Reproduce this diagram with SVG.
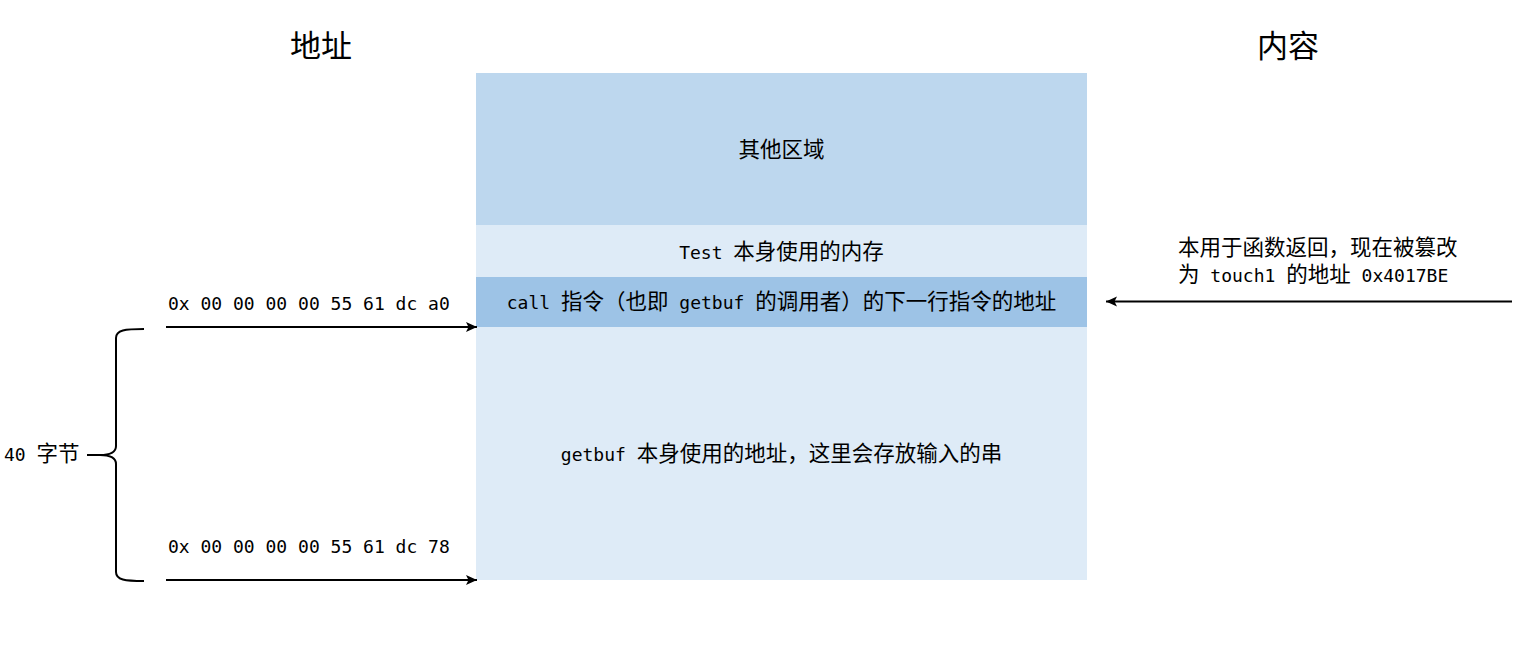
<svg xmlns="http://www.w3.org/2000/svg" width="1534" height="646" viewBox="0 0 1534 646">
  <defs>
    <marker id="arrow" markerUnits="userSpaceOnUse" markerWidth="12" markerHeight="12" viewBox="0 0 12 12" refX="11" refY="6" orient="auto">
      <path d="M0,1 L11,6 L0,11 L2.5,6 Z" fill="#000"/>
    </marker>
    <style>
      .t { font-family: "DejaVu Sans Mono", "Liberation Mono", monospace; font-size: 18px; fill: #000; }
      .c { font-family: "Noto Sans CJK SC", "Noto Sans", sans-serif; font-size: 21.5px; }
      .title { font-family: "Noto Sans CJK SC", sans-serif; font-size: 31px; fill: #000; }
      .mid { text-anchor: middle; }
      .line { stroke: #000; stroke-width: 2; fill: none; }
    </style>
  </defs>
  <rect width="1534" height="646" fill="#fff"/>

  <!-- column headings -->
  <g id="heading-address"><text class="title mid" x="321" y="57">地址</text></g>
  <g id="heading-content"><text class="title mid" x="1288" y="57">内容</text></g>

  <!-- stack regions -->
  <g id="other-region">
    <rect x="476" y="73" width="611" height="152" fill="#bdd7ee"/>
    <text class="t mid" x="781.5" y="157"><tspan class="c">其他区域</tspan></text>
  </g>
  <g id="test-frame">
    <rect x="476" y="225" width="611" height="52" fill="#deebf7"/>
    <text class="t mid" x="781.5" y="259">Test <tspan class="c">本身使用的内存</tspan></text>
  </g>
  <g id="return-address">
    <rect x="476" y="277" width="611" height="50" fill="#9dc3e6"/>
    <text class="t mid" x="781.5" y="309">call <tspan class="c">指令（也即</tspan> getbuf <tspan class="c">的调用者）的下一行指令的地址</tspan></text>
  </g>
  <g id="getbuf-frame">
    <rect x="476" y="327" width="611" height="253" fill="#deebf7"/>
    <text class="t mid" x="781.5" y="461">getbuf <tspan class="c">本身使用的地址，这里会存放输入的串</tspan></text>
  </g>

  <!-- address labels -->
  <g id="addr-top"><text class="t" x="168" y="310">0x 00 00 00 00 55 61 dc a0</text></g>
  <g id="addr-bottom"><text class="t" x="168" y="553">0x 00 00 00 00 55 61 dc 78</text></g>

  <!-- size brace -->
  <g id="size-brace">
    <path class="line" d="M144,329 C125,329 116,330 116,338 L116,446 C116,452 111,455 100,455 L87,455 M100,455 C111,455 116,458 116,464 L116,572 C116,580 125,581 144,581"/>
    <text class="t" x="4" y="461">40 <tspan class="c">字节</tspan></text>
  </g>

  <!-- note on the overwritten slot, two lines -->
  <g id="note">
    <text class="t" x="1178" y="255"><tspan class="c">本用于函数返回，现在被篡改</tspan><tspan x="1178" dy="27"><tspan class="c">为</tspan> touch1 <tspan class="c">的地址</tspan> 0x4017BE</tspan></text>
  </g>

  <!-- connectors -->
  <g id="connectors">
    <line class="line" x1="166" y1="327" x2="477" y2="327" marker-end="url(#arrow)"/>
    <line class="line" x1="166" y1="580" x2="477" y2="580" marker-end="url(#arrow)"/>
    <line class="line" x1="1512" y1="301.5" x2="1106" y2="301.5" marker-end="url(#arrow)"/>
  </g>
</svg>
